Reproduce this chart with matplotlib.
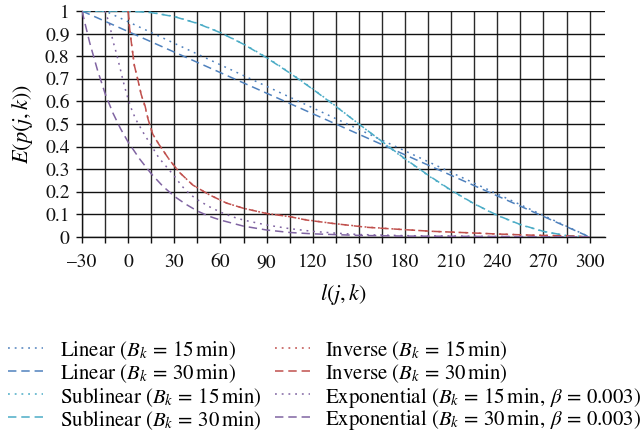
import matplotlib
matplotlib.use("Agg")
import matplotlib.pyplot as plt
from matplotlib.lines import Line2D
from matplotlib.ticker import FixedLocator, FuncFormatter

plt.rcParams['font.family'] = ['STIXGeneral', 'DejaVu Serif']
plt.rcParams['mathtext.fontset'] = 'stix'

# ---- data ----
lin15_x = [-30, -15, 300]
lin15_y = [1.0, 1.0, 0.0]
lin30_x = [-30, 300]
lin30_y = [1.0, 0.0]

sub_x = [-30, 0, 15, 30, 45, 60, 75, 90, 105, 120, 135, 150, 165, 180, 195,
         210, 225, 240, 255, 270, 285, 300]
sub15_y = [1.0, 1.0, 0.994, 0.976, 0.946, 0.905, 0.854, 0.795, 0.728, 0.656,
           0.579, 0.5, 0.421, 0.344, 0.272, 0.205, 0.146, 0.095, 0.054, 0.024,
           0.006, 0.0]
sub30_y = [1.0, 1.0, 0.993, 0.975, 0.945, 0.904, 0.853, 0.793, 0.726, 0.654,
           0.578, 0.5, 0.423, 0.346, 0.274, 0.207, 0.147, 0.096, 0.055, 0.025,
           0.006, 0.0]

inv_x = [0, 1, 2, 4, 6.5, 8.5, 11, 13, 16, 20, 27, 33.5, 42, 53, 64, 75, 90,
         105, 116, 133, 155, 176, 198, 220, 241, 263, 285, 300]
inv15_y = [1.0, 0.92, 0.865, 0.76, 0.69, 0.63, 0.575, 0.52, 0.455, 0.41, 0.34,
           0.285, 0.23, 0.186, 0.15, 0.127, 0.104, 0.09, 0.076, 0.06, 0.044,
           0.034, 0.025, 0.019, 0.013, 0.008, 0.005, 0.0]
inv30_y = [1.0, 0.92, 0.865, 0.76, 0.69, 0.63, 0.58, 0.52, 0.455, 0.41, 0.34,
           0.285, 0.23, 0.186, 0.15, 0.127, 0.104, 0.09, 0.075, 0.06, 0.043,
           0.034, 0.025, 0.019, 0.013, 0.008, 0.005, 0.0]

exp15_x = [-15, -12, -10, -7.5, -5, -2.5, 0, 2.5, 5, 10, 15, 20, 25, 30, 35,
           40, 45, 52.5, 60, 67.5, 75, 90, 105, 120, 135, 150, 180, 240, 300]
exp15_y = [1.0, 0.94, 0.87, 0.81, 0.74, 0.67, 0.61, 0.56, 0.52, 0.46, 0.405,
           0.35, 0.31, 0.27, 0.225, 0.19, 0.165, 0.135, 0.11, 0.09, 0.075,
           0.053, 0.037, 0.025, 0.017, 0.011, 0.006, 0.002, 0.0]
exp30_x = [-30, -25, -20, -15, -10, -5, 0, 7.5, 15, 22.5, 30, 37.5, 45, 52.5,
           60, 75, 90, 105, 120, 150, 180, 240, 300]
exp30_y = [1.0, 0.86, 0.74, 0.635, 0.55, 0.48, 0.42, 0.345, 0.28, 0.225, 0.18,
           0.145, 0.115, 0.092, 0.075, 0.048, 0.031, 0.02, 0.014, 0.007, 0.004,
           0.002, 0.0]

labels = [
    r"Linear ($B_k\,=\,15\,\mathrm{min}$)",
    r"Linear ($B_k\,=\,30\,\mathrm{min}$)",
    r"Sublinear ($B_k\,=\,15\,\mathrm{min}$)",
    r"Sublinear ($B_k\,=\,30\,\mathrm{min}$)",
    r"Inverse ($B_k\,=\,15\,\mathrm{min}$)",
    r"Inverse ($B_k\,=\,30\,\mathrm{min}$)",
    r"Exponential ($B_k\,=\,15\,\mathrm{min},\,\beta\,=\,0.003$)",
    r"Exponential ($B_k\,=\,30\,\mathrm{min},\,\beta\,=\,0.003$)",
]

x_major = [-30, 0, 30, 60, 90, 120, 150, 180, 210, 240, 270, 300]
x_minor = [-15, 15, 45, 75, 105, 135, 165, 195, 225, 255, 285]
y_ticks = [0, 0.1, 0.2, 0.3, 0.4, 0.5, 0.6, 0.7, 0.8, 0.9, 1.0]

BLUE = '#4F81BD'
CYAN = '#4BACC6'
RED = '#C0504D'
PURPLE = '#8064A2'
DOT = (0, (1.2, 3.2))
DASH = (0, (5.5, 3.2))
LW = 1.1

W, H = 643, 432
fig = plt.figure(figsize=(W / 100, H / 100), dpi=100)
ax = fig.add_axes([82 / W, 1 - 237 / H, (605 - 82) / W, (237 - 11) / H])

series = [
    (lin15_x, lin15_y, BLUE, DOT),
    (lin30_x, lin30_y, BLUE, DASH),
    (sub_x, sub15_y, CYAN, DOT),
    (sub_x, sub30_y, CYAN, DASH),
    (inv_x, inv15_y, RED, DOT),
    (inv_x, inv30_y, RED, DASH),
    (exp15_x, exp15_y, PURPLE, DOT),
    (exp30_x, exp30_y, PURPLE, DASH),
]
for (xs, ys, c, ls), lab in zip(series, labels):
    ax.plot(xs, ys, color=c, linestyle=ls, linewidth=LW, label=lab, zorder=3)

ax.set_xlim(-30, 310)
ax.set_ylim(0, 1)
ax.xaxis.set_major_locator(FixedLocator(x_major))
ax.xaxis.set_minor_locator(FixedLocator(x_minor))
ax.yaxis.set_major_locator(FixedLocator(y_ticks))
ax.yaxis.set_major_formatter(FuncFormatter(lambda v, p: f"{round(v, 1):g}"))
ax.xaxis.set_major_formatter(FuncFormatter(lambda v, p: f"{int(v)}".replace('-', '\u2013')))

ax.grid(True, which='both', axis='x', color='#2a2a2a', linewidth=1.0)
ax.grid(True, which='major', axis='y', color='#111111', linewidth=1.0)
ax.set_axisbelow(True)
for s in ['top', 'right']:
    ax.spines[s].set_visible(False)
for s in ['left', 'bottom']:
    ax.spines[s].set_color('#111111')
    ax.spines[s].set_linewidth(1.0)

ax.tick_params(axis='both', which='both', direction='out', length=4, width=1.0,
               colors='#111111', labelsize=14)
ax.tick_params(axis='x', which='both', pad=8)
ax.tick_params(axis='y', pad=5)

ax.set_ylabel(r"$E(p(j,k))$", fontsize=16, labelpad=7)
ax.set_xlabel(r"$l(j,k)$", fontsize=16, labelpad=8)

# ---- legend: 2 columns x 4 rows, placed in pixels ----
row_centers = [348, 371, 394, 417]
cols = [(8, 43, 60), (275, 310, 325)]   # handle start, handle end, text start
for i, ((xs, ys, c, ls), lab) in enumerate(zip(series, labels)):
    col, row = divmod(i, 4)
    hx0, hx1, tx = cols[col]
    yc = 1 - row_centers[row] / H
    fig.add_artist(Line2D([hx0 / W, hx1 / W], [yc, yc], transform=fig.transFigure,
                          color=c, linestyle=ls, linewidth=LW))
    fig.text(tx / W, yc, lab, fontsize=15, va='center_baseline', ha='left')

fig.savefig('out.png', dpi=100)
